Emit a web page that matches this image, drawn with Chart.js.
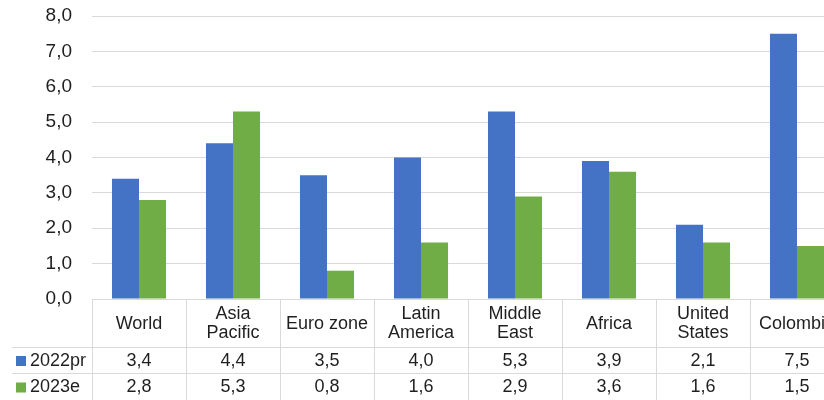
<!DOCTYPE html>
<html>
<head>
<meta charset="utf-8">
<script src="https://cdn.jsdelivr.net/npm/chart.js@4/dist/chart.umd.min.js"></script>
<style>
  html, body { margin: 0; padding: 0; background: #fff; overflow: hidden; }
  #wrap { width: 860px; height: 400px; position: relative; }
</style>
</head>
<body>
<div id="wrap"><canvas id="growthChart"></canvas></div>
<script>
// Datos del gráfico
const categories = [
  ["World"], ["Asia", "Pacific"], ["Euro zone"], ["Latin", "America"],
  ["Middle", "East"], ["Africa"], ["United", "States"], ["Colombia"]
];
const seriesNames = ["2022pr", "2023e"];
const values2022 = [3.4, 4.4, 3.5, 4.0, 5.3, 3.9, 2.1, 7.5];
const values2023 = [2.8, 5.3, 0.8, 1.6, 2.9, 3.6, 1.6, 1.5];
const seriesColors = ["#4472C4", "#70AD47"];
const yTicks = [0, 1, 2, 3, 4, 5, 6, 7, 8];

const fmt = (v) => v.toFixed(1).replace(".", ",");
const textColor = "#1f1f1f";
const lineColor = "#d9d9d9";

// Tabla de datos debajo del gráfico
const dataTablePlugin = {
  id: "dataTable",
  afterDraw(chart) {
    const ctx = chart.ctx;
    const xs = chart.scales.x;
    const area = chart.chartArea;
    const half = (xs.getPixelForValue(1) - xs.getPixelForValue(0)) / 2;
    const top = area.bottom;
    const row1 = Math.round(top) + 48;
    const row2 = row1 + 26;
    const bottom = chart.height;

    ctx.save();
    ctx.strokeStyle = lineColor;
    ctx.lineWidth = 1;
    ctx.beginPath();
    ctx.moveTo(area.left, Math.round(top) + 0.5);
    ctx.lineTo(chart.width, Math.round(top) + 0.5);
    ctx.moveTo(12, row1 + 0.5);
    ctx.lineTo(chart.width, row1 + 0.5);
    ctx.moveTo(12, row2 + 0.5);
    ctx.lineTo(chart.width, row2 + 0.5);
    for (let i = 0; i <= categories.length; i++) {
      const x = Math.round(xs.getPixelForValue(i) - half) + 0.5;
      ctx.moveTo(x, top);
      ctx.lineTo(x, bottom);
    }
    ctx.stroke();

    ctx.fillStyle = textColor;
    ctx.font = "18px 'Liberation Sans', Arial, sans-serif";
    ctx.textAlign = "center";
    ctx.textBaseline = "middle";
    categories.forEach((lines, i) => {
      const cx = xs.getPixelForValue(i);
      const mid = (top + row1) / 2 + 1;
      lines.forEach((t, j) => {
        const y = mid + (j - (lines.length - 1) / 2) * 19;
        ctx.fillText(t, cx, y);
      });
      ctx.fillText(fmt(values2022[i]), cx, (row1 + row2) / 2 + 1);
      ctx.fillText(fmt(values2023[i]), cx, (row2 + bottom) / 2 + 1);
    });

    // Leyenda de las filas
    ctx.textAlign = "left";
    [[row1, row2], [row2, bottom]].forEach(([a, b], k) => {
      const cy = (a + b) / 2 + 1;
      ctx.fillStyle = seriesColors[k];
      ctx.fillRect(16, cy - 5, 10, 10);
      ctx.fillStyle = textColor;
      ctx.fillText(seriesNames[k], 30, cy);
    });
    ctx.restore();
  },
};

new Chart(document.getElementById("growthChart"), {
  type: "bar",
  data: {
    labels: categories,
    datasets: [
      { label: seriesNames[0], data: values2022, backgroundColor: seriesColors[0] },
      { label: seriesNames[1], data: values2023, backgroundColor: seriesColors[1] },
    ],
  },
  options: {
    responsive: true,
    maintainAspectRatio: false,
    animation: false,
    layout: { padding: { top: 16, bottom: 101, right: 16, left: 0 } },
    datasets: { bar: { categoryPercentage: 0.575, barPercentage: 1 } },
    plugins: { legend: { display: false }, tooltip: { enabled: false } },
    scales: {
      x: { display: false },
      y: {
        min: 0,
        max: 8,
        afterBuildTicks: (scale) => { scale.ticks = yTicks.map((v) => ({ value: v })); },
        afterFit: (scale) => {
          scale.width = 92;
          scale.paddingTop = 0;
          scale.paddingBottom = 0;
        },
        border: { display: false },
        grid: { color: lineColor, drawTicks: false },
        ticks: {
          padding: 20,
          color: textColor,
          font: { family: "'Liberation Sans', Arial, sans-serif", size: 19 },
          callback: (v) => fmt(v),
        },
      },
    },
  },
  plugins: [dataTablePlugin],
});
</script>
</body>
</html>
